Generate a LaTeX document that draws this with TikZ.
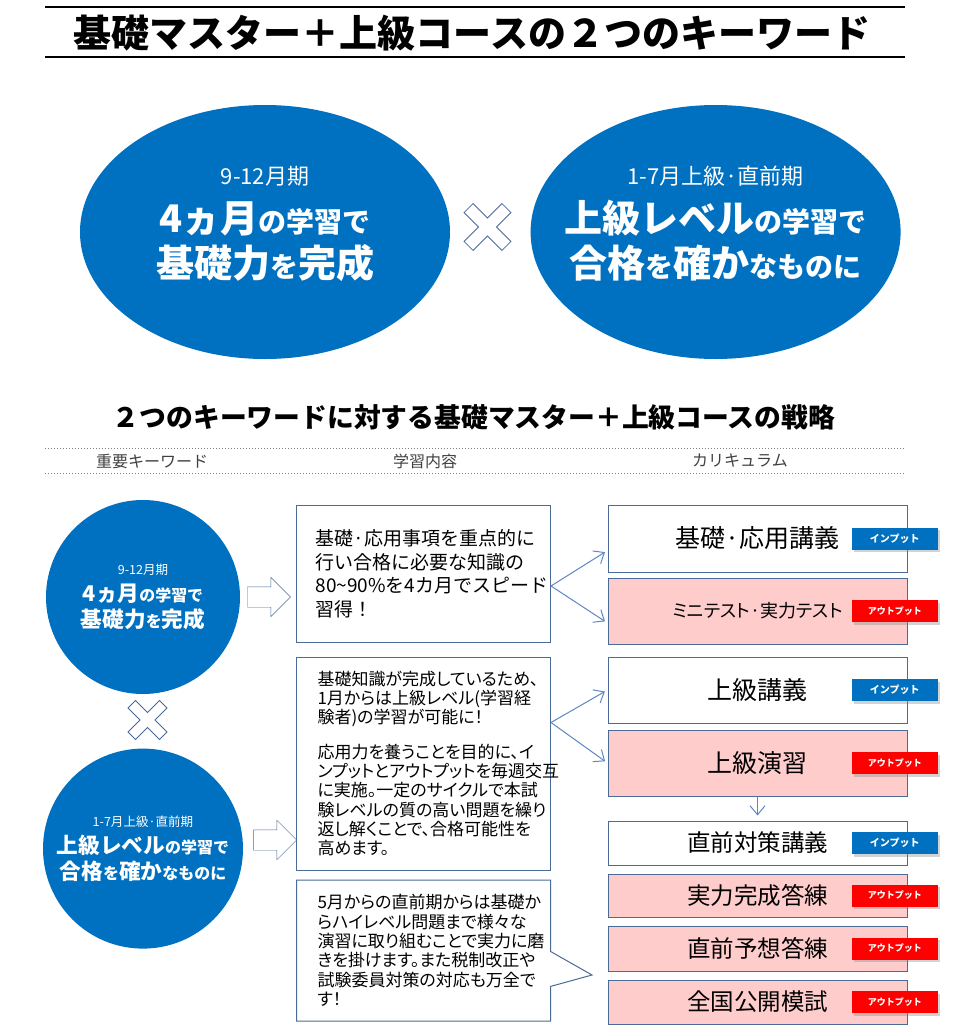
\documentclass[tikz,border=0pt]{standalone}
\usepackage{fontspec}
\setmainfont{Noto Sans CJK JP}
\newfontfamily\pfont{Noto Sans CJK JP}[RawFeature=+palt]
\usetikzlibrary{positioning,shapes.geometric,shapes.arrows,shapes.callouts,shadows,arrows.meta}
\definecolor{kblue}{HTML}{0070C0}
\definecolor{kline}{HTML}{4A6A98}
\definecolor{karrow}{HTML}{5B87C5}
\definecolor{kpink}{HTML}{FFCCCC}
\definecolor{kred}{HTML}{FF0000}
\definecolor{kgray}{HTML}{404040}
\newcommand\kwkiso{{\mdseries\fontsize{22}{45}\selectfont 9-12月期}\\[3pt]
  4ヵ月{\fontsize{28}{45}\selectfont の学習で}\\
  基礎力{\fontsize{28}{45}\selectfont を}完成}
\newcommand\kwjokyu{{\mdseries\fontsize{22}{45}\selectfont 1-7月上級·直前期}\\[3pt]
  上級レベル{\fontsize{28}{45}\selectfont の学習で}\\
  合格{\fontsize{28}{45}\selectfont を}確か{\fontsize{28}{45}\selectfont なものに}}
\begin{document}
\begin{tikzpicture}[x=1pt, y=-1pt, semithick,
  bigkw/.style={ellipse, fill=kblue, minimum width=370pt, minimum height=254pt, inner sep=0pt},
  smallkw/.style={circle, fill=kblue, inner sep=0pt},
  kwtext/.style={white, align=center, font=\bfseries\fontsize{38}{45}\selectfont},
  hdr/.style={kgray, font=\fontsize{16}{18}\selectfont},
  barrow/.style={single arrow, draw=kline, fill=white, thin, minimum height=43pt,
    inner xsep=0pt, inner ysep=10pt, single arrow head extend=9.5pt},
  mbox/.style={draw=kline, line width=1pt, fill=white, minimum width=254pt, align=left,
    inner xsep=21pt, text width=212pt, text=black, font=\pfont\fontsize{17}{19.3}\selectfont},
  rbox/.style={draw=kline, line width=1pt, fill=white, minimum width=299pt, text=black,
    font=\fontsize{25}{30}\selectfont},
  pbox/.style={rbox, fill=kpink},
  intag/.style={fill=kblue, text=white, minimum width=86pt, minimum height=22pt, inner sep=0pt,
    xshift=-56pt, font=\bfseries\fontsize{10}{10}\selectfont,
    drop shadow={shadow xshift=2.5pt, shadow yshift=-2.5pt, opacity=0.35}},
  outtag/.style={intag, fill=kred, font=\bfseries\fontsize{9}{9}\selectfont},
  inp/.style={label={[intag]east:インプット}},
  outp/.style={label={[outtag]east:アウトプット}},
  conn/.style={draw=karrow, line width=1pt, -{Straight Barb[length=9pt,width=15pt]}, shorten >=3pt},
  kakeru/.style={draw=kline, fill=white, line width=0.8pt}]
\useasboundingbox (0,0) rectangle (960,1036);
% title
\draw[line width=1.2pt] (45,7) -- (905,7);
\draw[line width=1.2pt] (45,57) -- (905,57);
\node (T) at (472,33) {\bfseries\fontsize{38}{42}\selectfont 基礎マスター＋上級コースの２つのキーワード};
% two keywords
\node[bigkw, label={[kwtext, yshift=8pt]center:\kwkiso}] (K1) at (265,232) {};
\node[bigkw, right=80pt of K1, label={[kwtext, yshift=8pt]center:\kwjokyu}] (K2) {};
\foreach \cx/\cy/\s in {487.5/227/1, 147.5/720/0.83}
  \draw[kakeru, shift={(\cx,\cy)}, scale=\s, rotate=45]
    (6.4,26.8) -- (6.4,6.4) -- (26.8,6.4) -- (26.8,-6.4) -- (6.4,-6.4) -- (6.4,-26.8)
    -- (-6.4,-26.8) -- (-6.4,-6.4) -- (-26.8,-6.4) -- (-26.8,6.4) -- (-6.4,6.4) -- (-6.4,26.8) -- cycle;
% strategy
\node (ST) at (474,417) {\bfseries\fontsize{26.8}{30}\selectfont ２つのキーワードに対する基礎マスター＋上級コースの戦略};
\draw[gray, dotted, line width=1pt] (45,448) -- (905,448);
\draw[gray, dotted, line width=1pt] (45,473) -- (905,473);
\node[hdr] (H1) at (152,461) {重要キーワード};
\node[hdr] (H2) at (425,461) {学習内容};
\node[hdr] (H3) at (740,461) {カリキュラム};
% left column
\node[smallkw, minimum size=194pt, label={[kwtext, scale=0.57]center:\kwkiso}] (S1) at (143,597) {};
\node[smallkw, minimum size=200pt, below=54pt of S1, label={[kwtext, scale=0.57]center:\kwjokyu}] (S2) {};
\node[barrow, right=7pt of S1] (A1) {};
\node[barrow] (A2) at (270,840) {};
% middle column
\node[mbox, minimum height=137pt, inner xsep=19pt, text width=216pt,
  font=\fontsize{19}{23.5}\selectfont] (M1) at (423.5,574) {基礎·応用事項を重点的に\\行い合格に必要な知識の\\80\textasciitilde 90\%を4カ月でスピード\\習得！};
\node[mbox, minimum height=213pt] (M2) at (423.5,763.5) {基礎知識が完成しているため、\\1月からは上級レベル(学習経\\験者)の学習が可能に！\\[15pt]応用力を養うことを目的に、イ\\ンプットとアウトプットを毎週交互\\に実施。一定のサイクルで本試\\験レベルの質の高い問題を繰り\\返し解くことで、合格可能性を\\高めます。};
\node[mbox, rectangle callout, callout absolute pointer={(592,975)}, callout pointer width=35pt,
  minimum height=141pt] (M3) at (423.5,950.5) {5月からの直前期からは基礎か\\らハイレベル問題まで様々な\\演習に取り組むことで実力に磨\\きを掛けます。また税制改正や\\試験委員対策の対応も万全で\\す！};
% curriculum
\node[rbox, inp, minimum height=67pt] (R1) at (757.5,538.5) {基礎·応用講義};
\node[pbox, outp, minimum height=66pt, below=5pt of R1, font=\pfont\fontsize{18}{22}\selectfont] (R2) {ミニテスト·実力テスト};
\node[rbox, inp, minimum height=66pt] (R3) at (757.5,690) {上級講義};
\node[pbox, outp, minimum height=66pt, below=6pt of R3] (R4) {上級演習};
\node[rbox, inp, minimum height=44pt, below=24pt of R4, font=\fontsize{23.5}{28}\selectfont] (R5) {直前対策講義};
\node[pbox, outp, minimum height=43pt, below=8pt of R5, font=\fontsize{23.5}{28}\selectfont] (R6) {実力完成答練};
\node[pbox, outp, minimum height=45pt, below=8pt of R6, font=\fontsize{23.5}{28}\selectfont] (R7) {直前予想答練};
\node[pbox, outp, minimum height=44pt, below=8pt of R7, font=\fontsize{23.5}{28}\selectfont] (R8) {全国公開模試};
% connectors
\coordinate (P1) at ([yshift=-12pt]M1.east);
\coordinate (P2) at ([yshift=41pt]M2.east);
\draw[conn] (P1) -- ([yshift=-12pt]R1.west);
\draw[conn] (P1) -- ([yshift=-12pt]R2.west);
\draw[conn] (P2) -- (R3.west);
\draw[conn] (P2) -- (R4.west);
\draw[conn, shorten >=5pt] (R4.south) -- (R5.north);
\end{tikzpicture}
\end{document}
